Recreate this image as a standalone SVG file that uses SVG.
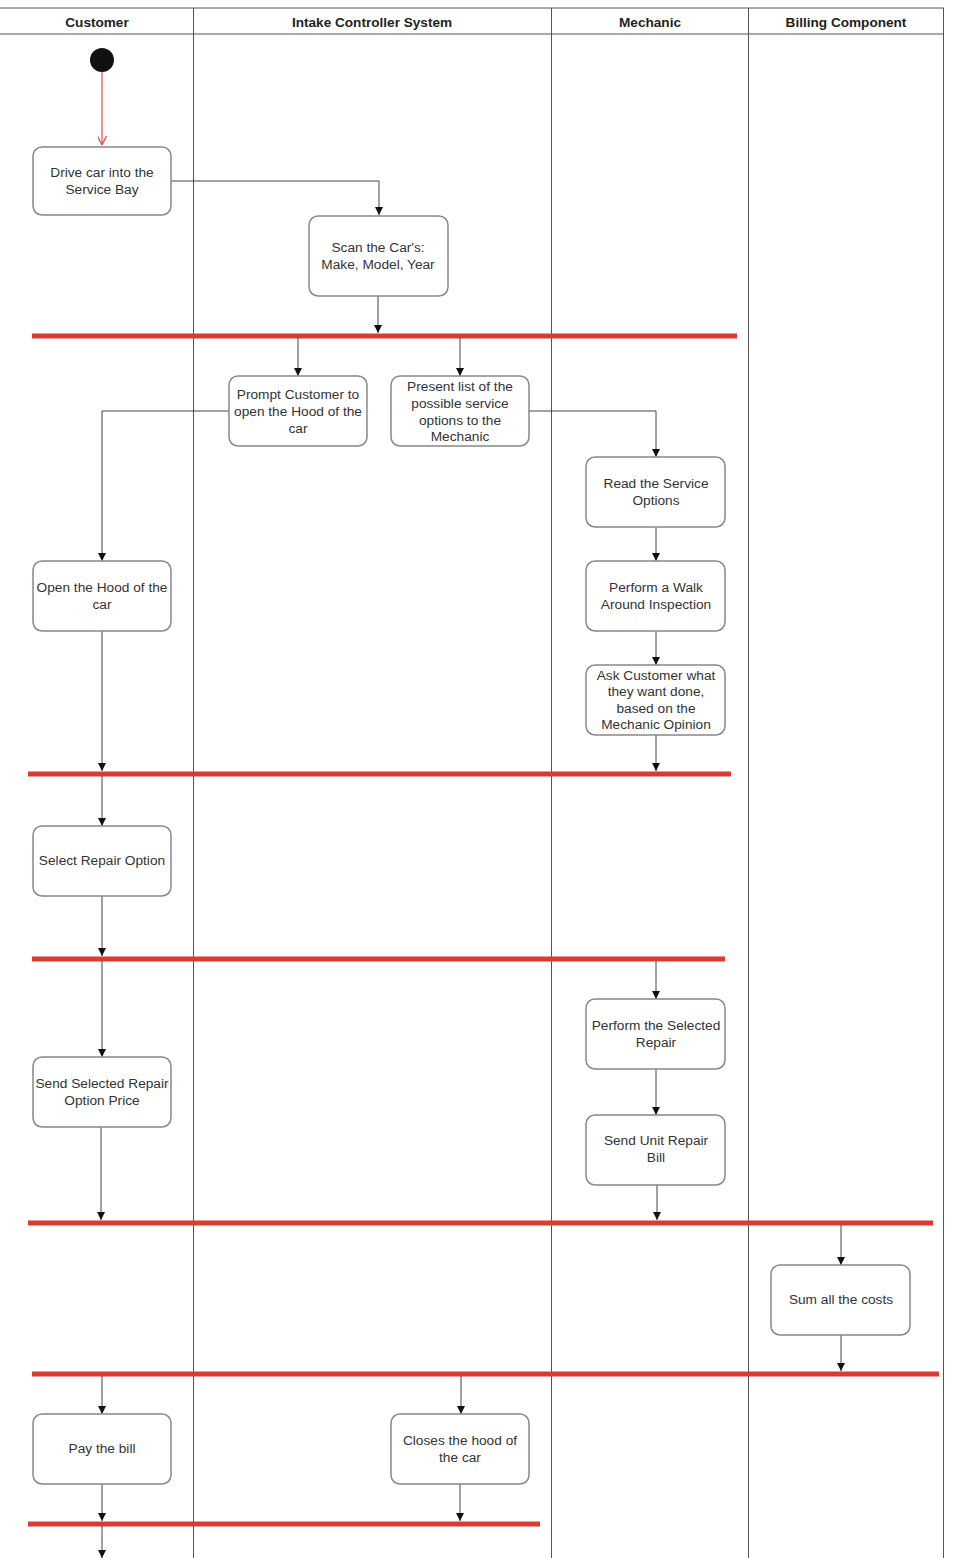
<svg xmlns="http://www.w3.org/2000/svg" width="955" height="1558" viewBox="0 0 955 1558">
<defs>
<style>
.lane{stroke:#555;stroke-width:1;fill:none}
.hdr{font-family:"Liberation Sans",Arial,sans-serif;font-size:13.6px;font-weight:bold;fill:#222;text-anchor:middle}
.box rect{fill:#fff;stroke:#888;stroke-width:1.5}
.box text{font-family:"Liberation Sans",Arial,sans-serif;font-size:13.7px;fill:#333;text-anchor:middle}
.c{stroke:#444;stroke-width:1;fill:none;marker-end:url(#ah)}
.bar{stroke:#d93a32;stroke-width:5}
</style>
<marker id="ah" viewBox="0 0 10 10" refX="10" refY="5" markerWidth="8" markerHeight="8" markerUnits="userSpaceOnUse" orient="auto">
<path d="M0,0 L10,5 L0,10 z" fill="#111"/>
</marker>
<marker id="ahr" viewBox="0 0 10 10" refX="10" refY="5" markerWidth="9" markerHeight="9" markerUnits="userSpaceOnUse" orient="auto">
<path d="M0,0 L10,5 L0,10" fill="none" stroke="#e05050" stroke-width="1.5"/>
</marker>
</defs>
<rect width="955" height="1558" fill="#fff"/>
<g id="lanes">
<line class="lane" x1="0" y1="8" x2="944" y2="8"/>
<line class="lane" x1="0" y1="34" x2="944" y2="34"/>
<line class="lane" x1="193.5" y1="8" x2="193.5" y2="1558"/>
<line class="lane" x1="551.5" y1="8" x2="551.5" y2="1558"/>
<line class="lane" x1="748.5" y1="8" x2="748.5" y2="1558"/>
<line class="lane" x1="943.5" y1="8" x2="943.5" y2="1558"/>
<text class="hdr" x="97" y="27">Customer</text>
<text class="hdr" x="372" y="27">Intake Controller System</text>
<text class="hdr" x="650" y="27">Mechanic</text>
<text class="hdr" x="846" y="27">Billing Component</text>
</g>
<g id="bars">
<line class="bar" x1="32" y1="336" x2="737" y2="336"/>
<line class="bar" x1="28" y1="774" x2="731" y2="774"/>
<line class="bar" x1="32" y1="959" x2="725" y2="959"/>
<line class="bar" x1="28" y1="1223" x2="933" y2="1223"/>
<line class="bar" x1="32" y1="1374" x2="939" y2="1374"/>
<line class="bar" x1="28" y1="1524" x2="540" y2="1524"/>
</g>
<g id="connectors">
<line x1="102" y1="72" x2="102" y2="145" stroke="#e05050" stroke-width="1.2" marker-end="url(#ahr)"/>
<path class="c" d="M171,181 H379 V215"/>
<path class="c" d="M378,296 V333"/>
<path class="c" d="M298,338 V376"/>
<path class="c" d="M460,338 V376"/>
<path class="c" d="M229,411 H102 V561"/>
<path class="c" d="M529,411 H656 V457"/>
<path class="c" d="M656,527 V561"/>
<path class="c" d="M656,631 V665"/>
<path class="c" d="M656,735 V771"/>
<path class="c" d="M102,631 V771"/>
<path class="c" d="M102,776 V826"/>
<path class="c" d="M102,896 V956"/>
<path class="c" d="M102,961 V1057"/>
<path class="c" d="M656,961 V999"/>
<path class="c" d="M656,1069 V1115"/>
<path class="c" d="M101,1127 V1220"/>
<path class="c" d="M657,1185 V1220"/>
<path class="c" d="M841,1225 V1265"/>
<path class="c" d="M841,1335 V1371"/>
<path class="c" d="M102,1376 V1414"/>
<path class="c" d="M461,1376 V1414"/>
<path class="c" d="M102,1484 V1521"/>
<path class="c" d="M460,1484 V1521"/>
<path class="c" d="M102,1526 V1558"/>
</g>
<g id="start"><circle cx="102" cy="60" r="12" fill="#111"/></g>
<g id="n1" class="box"><rect x="33" y="147" width="138" height="68" rx="9"/><text x="102" y="177">Drive car into the</text><text x="102" y="194">Service Bay</text></g>
<g id="n2" class="box"><rect x="309" y="216" width="139" height="80" rx="9"/><text x="378" y="252">Scan the Car's:</text><text x="378" y="269">Make, Model, Year</text></g>
<g id="n3" class="box"><rect x="229" y="376" width="138" height="70" rx="9"/><text x="298" y="399">Prompt Customer to</text><text x="298" y="416">open the Hood of the</text><text x="298" y="433">car</text></g>
<g id="n4" class="box"><rect x="391" y="376" width="138" height="70" rx="9"/><text x="460" y="391">Present list of the</text><text x="460" y="408">possible service</text><text x="460" y="425">options to the</text><text x="460" y="441">Mechanic</text></g>
<g id="n5" class="box"><rect x="586" y="457" width="139" height="70" rx="9"/><text x="656" y="488">Read the Service</text><text x="656" y="505">Options</text></g>
<g id="n6" class="box"><rect x="586" y="561" width="139" height="70" rx="9"/><text x="656" y="592">Perform a Walk</text><text x="656" y="609">Around Inspection</text></g>
<g id="n7" class="box"><rect x="586" y="665" width="139" height="70" rx="9"/><text x="656" y="680">Ask Customer what</text><text x="656" y="696">they want done,</text><text x="656" y="713">based on the</text><text x="656" y="729">Mechanic Opinion</text></g>
<g id="n8" class="box"><rect x="33" y="561" width="138" height="70" rx="9"/><text x="102" y="592">Open the Hood of the</text><text x="102" y="609">car</text></g>
<g id="n9" class="box"><rect x="33" y="826" width="138" height="70" rx="9"/><text x="102" y="865">Select Repair Option</text></g>
<g id="n10" class="box"><rect x="33" y="1057" width="138" height="70" rx="9"/><text x="102" y="1088">Send Selected Repair</text><text x="102" y="1105">Option Price</text></g>
<g id="n11" class="box"><rect x="586" y="999" width="139" height="70" rx="9"/><text x="656" y="1030">Perform the Selected</text><text x="656" y="1047">Repair</text></g>
<g id="n12" class="box"><rect x="586" y="1115" width="139" height="70" rx="9"/><text x="656" y="1145">Send Unit Repair</text><text x="656" y="1162">Bill</text></g>
<g id="n13" class="box"><rect x="771" y="1265" width="139" height="70" rx="9"/><text x="841" y="1304">Sum all the costs</text></g>
<g id="n14" class="box"><rect x="33" y="1414" width="138" height="70" rx="9"/><text x="102" y="1453">Pay the bill</text></g>
<g id="n15" class="box"><rect x="391" y="1414" width="138" height="70" rx="9"/><text x="460" y="1445">Closes the hood of</text><text x="460" y="1462">the car</text></g>
</svg>
